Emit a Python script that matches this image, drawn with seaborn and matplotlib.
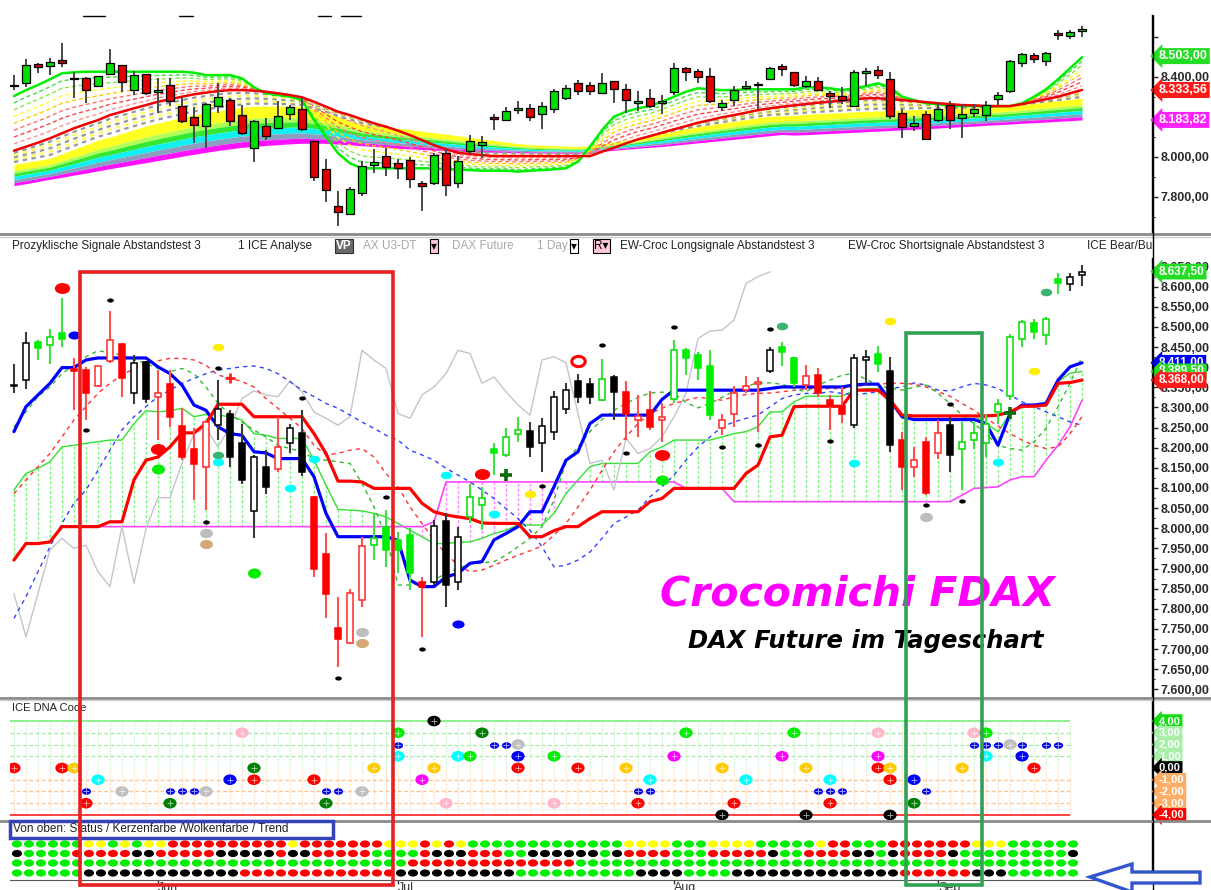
import numpy as np
import pandas as pd
import seaborn as sns
import matplotlib.pyplot as plt
from matplotlib.lines import Line2D
from matplotlib.patches import Rectangle, Polygon
from matplotlib.markers import MarkerStyle
from matplotlib.transforms import Affine2D
from matplotlib.ticker import FixedLocator, FuncFormatter

# ---------------- data (FDAX daily, mid May - mid Sep 2013) ----------------
OPEN = [8357, 8368, 8463, 8455, 8484, 8395, 8393, 8353, 8416, 8457,
        8336, 8413, 8325, 8358, 8254, 8198, 8153, 8256, 8285, 8211,
        8043, 8151, 8146, 8212, 8237, 8078, 7937, 7753, 7715, 7821,
        7958, 8004, 7970, 7983, 7867, 7867, 8018, 7867, 8028, 8057,
        8198, 8182, 8235, 8242, 8212, 8240, 8295, 8366, 8358, 8318,
        8376, 8339, 8269, 8293, 8270, 8322, 8444, 8430, 8403, 8248,
        8285, 8343, 8358, 8391, 8451, 8422, 8356, 8380, 8318, 8303,
        8256, 8419, 8432, 8391, 8220, 8153, 8215, 8186, 8256, 8196,
        8219, 8211, 8289, 8328, 8471, 8509, 8480, 8618, 8606, 8629]
HIGH = [8409, 8488, 8467, 8496, 8571, 8422, 8401, 8404, 8540, 8460,
        8430, 8415, 8393, 8393, 8298, 8250, 8268, 8368, 8293, 8260,
        8182, 8194, 8277, 8260, 8293, 8080, 7989, 7830, 7850, 7979,
        8037, 8045, 7990, 8000, 7879, 8020, 8037, 8004, 8111, 8103,
        8212, 8248, 8277, 8263, 8275, 8341, 8360, 8384, 8372, 8420,
        8380, 8366, 8331, 8341, 8310, 8467, 8447, 8438, 8444, 8285,
        8353, 8378, 8376, 8449, 8463, 8426, 8405, 8399, 8331, 8351,
        8434, 8444, 8452, 8426, 8240, 8202, 8227, 8269, 8277, 8264,
        8264, 8281, 8322, 8482, 8517, 8521, 8525, 8635, 8635, 8654]
LOW = [8335, 8347, 8418, 8408, 8451, 8293, 8270, 8350, 8410, 8326,
       8308, 8310, 8219, 8252, 8170, 8070, 8045, 8219, 8153, 8110,
       7975, 8086, 8140, 8186, 8130, 7880, 7776, 7656, 7712, 7805,
       7921, 7904, 7890, 7846, 7730, 7860, 7805, 7846, 8012, 7995,
       8132, 8177, 8215, 8177, 8140, 8219, 8285, 8310, 8308, 8316,
       8269, 8219, 8227, 8244, 8215, 8310, 8380, 8368, 8269, 8231,
       8252, 8335, 8240, 8385, 8403, 8350, 8343, 8327, 8244, 8262,
       8248, 8356, 8389, 8190, 8095, 8128, 8082, 8173, 8140, 8095,
       8198, 8177, 8260, 8318, 8449, 8469, 8455, 8582, 8590, 8601]
CLOSE = [8353, 8459, 8447, 8474, 8471, 8390, 8336, 8403, 8467, 8372,
         8411, 8320, 8335, 8277, 8177, 8159, 8264, 8297, 8177, 8120,
         8177, 8103, 8202, 8248, 8140, 7900, 7836, 7726, 7840, 7956,
         7975, 7947, 7945, 7888, 7855, 8006, 7859, 7979, 8078, 8074,
         8187, 8227, 8244, 8201, 8254, 8327, 8343, 8327, 8327, 8370,
         8339, 8285, 8278, 8252, 8277, 8442, 8422, 8397, 8281, 8270,
         8335, 8353, 8364, 8444, 8438, 8360, 8378, 8335, 8303, 8285,
         8424, 8426, 8408, 8206, 8151, 8169, 8088, 8237, 8183, 8215,
         8237, 8260, 8308, 8476, 8513, 8488, 8521, 8610, 8623, 8637.5]
# candle colour code in the lower price chart: K black, W white, G green, g green hollow, R red, r red hollow
CANDLE_CODE = list("KWGgGRRrrR" "WKrRRRrWKK" "WKrWKRRRrr" "gGGGRWKWgg" "GggKWWWKKg"
                   "KRrRrgGGGr" "rrrWGGrRRR" "WWGKRrRrKg" "gggggGgGWW")

# upper chart: moving average ribbon
TOP_FAST = [8303, 8333, 8358, 8387, 8417, 8422, 8425, 8425, 8425, 8425,
            8425, 8425, 8425, 8425, 8425, 8420, 8408, 8408, 8408, 8392,
            8347, 8317, 8308, 8300, 8283, 8183, 8100, 8017, 7967, 7942,
            7942, 7942, 7942, 7942, 7942, 7942, 7937, 7937, 7933, 7930,
            7930, 7930, 7925, 7930, 7933, 7937, 7942, 7975, 8050, 8133,
            8200, 8225, 8242, 8253, 8275, 8300, 8325, 8342, 8337, 8333,
            8333, 8337, 8337, 8337, 8337, 8337, 8347, 8347, 8342, 8333,
            8342, 8353, 8367, 8347, 8300, 8283, 8267, 8263, 8253, 8253,
            8253, 8253, 8253, 8253, 8267, 8300, 8337, 8387, 8442, 8497]
TOP_RED = [8030, 8050, 8070, 8092, 8117, 8142, 8163, 8183, 8208, 8225,
           8242, 8258, 8275, 8287, 8300, 8312, 8320, 8328, 8333, 8333,
           8330, 8325, 8317, 8308, 8297, 8275, 8250, 8225, 8208, 8187,
           8167, 8150, 8130, 8108, 8083, 8058, 8037, 8020, 8013, 8008,
           8003, 8003, 8003, 8003, 8003, 8003, 8003, 8003, 8003, 8025,
           8045, 8067, 8087, 8103, 8120, 8137, 8153, 8170, 8183, 8197,
           8208, 8220, 8233, 8242, 8250, 8257, 8263, 8270, 8275, 8280,
           8287, 8292, 8292, 8288, 8283, 8278, 8273, 8267, 8263, 8258,
           8257, 8253, 8253, 8253, 8263, 8275, 8287, 8300, 8317, 8333.56]
RIB_TOP = [7962, 7972, 7982, 7992, 8015, 8037, 8060, 8083, 8098, 8117,
           8135, 8153, 8168, 8182, 8196, 8210, 8220, 8229, 8238, 8247,
           8253, 8253, 8253, 8253, 8252, 8236, 8220, 8200, 8182, 8164,
           8155, 8148, 8142, 8136, 8128, 8120, 8113, 8105, 8096, 8088,
           8081, 8073, 8066, 8060, 8057, 8055, 8053, 8051, 8055, 8064,
           8073, 8082, 8093, 8105, 8117, 8129, 8140, 8150, 8159, 8168,
           8177, 8186, 8195, 8202, 8205, 8207, 8212, 8215, 8218, 8221,
           8224, 8227, 8229, 8231, 8233, 8235, 8237, 8239, 8241, 8243,
           8245, 8247, 8250, 8255, 8261, 8267, 8274, 8280, 8286, 8292]
RIB_BOT = [7855, 7865, 7876, 7887, 7897, 7908, 7918, 7929, 7940, 7950,
           7960, 7970, 7981, 7991, 8002, 8012, 8022, 8031, 8039, 8047,
           8051, 8056, 8060, 8064, 8067, 8067, 8067, 8063, 8059, 8055,
           8051, 8046, 8042, 8039, 8036, 8033, 8030, 8027, 8024, 8023,
           8022, 8021, 8020, 8019, 8018, 8018, 8017, 8017, 8022, 8027,
           8032, 8037, 8042, 8047, 8051, 8057, 8063, 8069, 8075, 8081,
           8087, 8093, 8099, 8105, 8111, 8108, 8110, 8113, 8116, 8119,
           8122, 8125, 8128, 8131, 8134, 8137, 8140, 8143, 8147, 8150,
           8153, 8157, 8160, 8163, 8167, 8170, 8173, 8177, 8180, 8183.82]

# lower chart: ichimoku style lines
BLUE_THICK = [8240, 8302, 8331, 8360, 8399, 8399, 8418, 8423, 8423, 8423,
              8423, 8423, 8401, 8384, 8356, 8306, 8293, 8252, 8235, 8231,
              8190, 8187, 8173, 8173, 8173, 8128, 8037, 7979, 7979, 7979,
              7979, 7979, 7970, 7871, 7855, 7855, 7879, 7888, 7913, 7917,
              7971, 7987, 8004, 8041, 8041, 8103, 8169, 8190, 8260, 8281,
              8281, 8281, 8281, 8281, 8320, 8343, 8343, 8343, 8343, 8343,
              8343, 8343, 8343, 8347, 8351, 8351, 8351, 8351, 8351, 8351,
              8356, 8358, 8358, 8318, 8277, 8270, 8270, 8270, 8270, 8270,
              8270, 8260, 8206, 8285, 8306, 8306, 8310, 8368, 8401, 8411]
RED_THICK = [7921, 7962, 7962, 7966, 8004, 8004, 8004, 8004, 8016, 8016,
             8120, 8169, 8177, 8202, 8237, 8237, 8260, 8308, 8308, 8308,
             8277, 8277, 8277, 8277, 8277, 8235, 8186, 8117, 8117, 8115,
             8099, 8099, 8099, 8099, 8062, 8041, 8033, 8028, 8024, 8013,
             8012, 8012, 8012, 7979, 7979, 7994, 8004, 8004, 8024, 8041,
             8041, 8041, 8041, 8066, 8074, 8099, 8099, 8099, 8099, 8099,
             8099, 8136, 8157, 8227, 8231, 8302, 8303, 8303, 8303, 8303,
             8343, 8343, 8343, 8318, 8281, 8279, 8279, 8279, 8279, 8279,
             8279, 8279, 8281, 8289, 8303, 8303, 8306, 8360, 8362, 8368]
SPAN_A = [8095, 8136, 8149, 8165, 8202, 8206, 8211, 8215, 8219, 8219,
          8260, 8292, 8289, 8292, 8298, 8277, 8283, 8281, 8277, 8269,
          8235, 8231, 8223, 8223, 8223, 8169, 8107, 8047, 8045, 8043,
          8037, 8028, 8012, 7995, 7979, 7962, 7962, 7965, 7966, 7975,
          7987, 7995, 8008, 8008, 8008, 8037, 8086, 8120, 8153, 8161,
          8161, 8161, 8161, 8190, 8202, 8219, 8219, 8219, 8219, 8227,
          8235, 8240, 8252, 8289, 8289, 8314, 8328, 8328, 8328, 8328,
          8343, 8347, 8347, 8310, 8281, 8279, 8279, 8279, 8279, 8279,
          8279, 8260, 8240, 8285, 8306, 8306, 8306, 8364, 8385, 8389.5]
SPAN_B = [7921, 7962, 7962, 7966, 8004, 8004, 8004, 8004, 8004, 8004,
          8004, 8004, 8004, 8004, 8004, 8004, 8004, 8004, 8004, 8004,
          8004, 8004, 8004, 8004, 8004, 8004, 8004, 8004, 8004, 8004,
          8004, 8004, 8004, 8004, 8004, 8016, 8115, 8115, 8115, 8115,
          8115, 8115, 8115, 8115, 8115, 8115, 8115, 8115, 8115, 8115,
          8115, 8115, 8115, 8115, 8115, 8115, 8099, 8099, 8099, 8099,
          8066, 8066, 8066, 8066, 8066, 8066, 8066, 8066, 8066, 8066,
          8066, 8066, 8066, 8066, 8066, 8066, 8066, 8066, 8066, 8082,
          8099, 8101, 8103, 8120, 8128, 8128, 8169, 8206, 8252, 8318]
BLUE_DASH = [7776, 7830, 7892, 7954, 8012, 8062, 8095, 8144, 8194, 8244,
             8277, 8302, 8327, 8343, 8360, 8372, 8384, 8393, 8397, 8401,
             8403, 8397, 8384, 8364, 8343, 8327, 8310, 8298, 8281, 8264,
             8248, 8231, 8219, 8194, 8182, 8169, 8149, 8132, 8115, 8095,
             8074, 8049, 8024, 7995, 7954, 7904, 7908, 7921, 7941, 7975,
             8012, 8028, 8045, 8078, 8103, 8132, 8169, 8202, 8227, 8252,
             8264, 8273, 8281, 8302, 8322, 8331, 8335, 8335, 8339, 8335,
             8331, 8335, 8339, 8347, 8351, 8361, 8356, 8343, 8341, 8351,
             8360, 8356, 8347, 8331, 8314, 8302, 8289, 8277, 8264, 8256]
RED_DASH = [8086, 8120, 8153, 8186, 8227, 8269, 8302, 8335, 8360, 8380,
            8397, 8409, 8416, 8422, 8422, 8418, 8405, 8380, 8374, 8364,
            8351, 8322, 8298, 8273, 8248, 8206, 8182, 8186, 8194, 8198,
            8177, 8136, 8103, 8053, 8012, 7970, 7937, 7908, 7892, 7896,
            7908, 7921, 7933, 7944, 7956, 7983, 8012, 8053, 8095, 8144,
            8190, 8227, 8260, 8285, 8298, 8310, 8318, 8325, 8322, 8318,
            8327, 8332, 8335, 8336, 8339, 8343, 8347, 8347, 8347, 8347,
            8351, 8356, 8358, 8360, 8360, 8358, 8351, 8339, 8328, 8310,
            8293, 8273, 8254, 8235, 8219, 8206, 8198, 8202, 8235, 8277]
GREEN_DASH = [8252, 8289, 8327, 8351, 8384, 8405, 8426, 8441, 8436, 8430,
              8419, 8409, 8397, 8389, 8397, 8384, 8351, 8310, 8283, 8264,
              8244, 8227, 8206, 8198, 8190, 8173, 8169, 8165, 8161, 8111,
              8053, 7979, 7859, 7859, 7863, 7871, 7888, 7900, 7911, 7914,
              7917, 7933, 7954, 7975, 8004, 8070, 8165, 8202, 8240, 8270,
              8293, 8310, 8325, 8336, 8338, 8335, 8312, 8299, 8310, 8325,
              8341, 8353, 8361, 8361, 8358, 8347, 8339, 8356, 8368, 8380,
              8385, 8370, 8356, 8347, 8343, 8350, 8356, 8335, 8310, 8281,
              8260, 8235, 8206, 8198, 8194, 8215, 8248, 8302, 8360, 8426]
GREY_LAG = [7838, 7730, 7838, 7946, 7975, 7950, 7958, 7892, 7855, 8004,
            7863, 7999, 8076, 8076, 8161, 8235, 8248, 8202, 8252, 8322,
            8341, 8331, 8327, 8366, 8339, 8289, 8273, 8256, 8277, 8442,
            8418, 8397, 8285, 8273, 8331, 8351, 8384, 8442, 8434, 8360,
            8376, 8339, 8306, 8281, 8418, 8426, 8411, 8285, 8161, 8169,
            8095, 8223, 8186, 8198, 8227, 8277, 8335, 8471, 8490, 8492,
            8517, 8608, 8625, 8637]

# signal markers in the lower price chart
SIG_BAR = [4, 5, 8, 6, 12, 12, 17, 17, 18, 17, 17, 16, 16, 16, 20, 23, 24, 25, 27, 29,
           29, 31, 36, 34, 37, 39, 41, 40, 43, 44, 47, 49, 51, 54, 54, 55, 59, 62, 63, 64,
           68, 73, 70, 76, 76, 78, 79, 82, 83, 85, 86]
SIG_VAL = [8596, 8481, 8567, 8245, 8198, 8147, 8451, 8397, 8372, 8183, 8165, 8016, 7987, 7962,
           7889, 8099, 8324, 8171, 7627, 7743, 7714, 8078, 8132, 7699, 7762, 8134, 8132, 8035,
           8084, 8105, 8416, 8456, 8186, 8182, 8120, 8500, 8201, 8206, 8495, 8502, 8217, 8515,
           8163, 8057, 8028, 8308, 8067, 8165, 8287, 8390, 8587]
SIG_KIND = ['bigred', 'blue', 'dot', 'dot', 'bigred', 'green', 'yellow', 'dot', 'redcross', 'teal',
            'cyan', 'dot', 'grey', 'tan', 'green', 'cyan', 'dot', 'cyan', 'dot', 'grey',
            'tan', 'dot', 'cyan', 'dot', 'blue', 'bigred', 'dgcross', 'cyan', 'yellow', 'dot',
            'ring', 'dot', 'dot', 'bigred', 'green', 'dot', 'dot', 'dot', 'dot', 'teal',
            'dot', 'yellow', 'cyan', 'dot', 'grey', 'dot', 'dot', 'cyan', 'dgcross', 'yellow', 'teal']

# ICE DNA code panel
DNA_BAR = [0, 4, 5, 6, 6, 7, 9, 13, 14, 15, 16, 13, 19, 18, 20, 20, 25, 26, 27, 26,
           29, 30, 32, 32, 32, 35, 34, 35, 36, 37, 38, 39, 40, 41, 42, 42, 42, 45, 45, 47,
           51, 52, 53, 52, 53, 55, 56, 59, 59, 60, 61, 64, 65, 66, 66, 67, 68, 69, 68, 68,
           72, 72, 72, 73, 73, 73, 75, 76, 75, 79, 80, 81, 80, 81, 82, 83, 84, 86, 87, 81,
           84, 85]
DNA_LEVEL = [0, 0, 0, -2, -3, -1, -2, -2, -2, -2, -2, -3, 3, -1, -1, 0, -1, -2, -2, -3,
             -2, 0, 3, 2, 1, 4, -1, 0, -3, 1, 1, 3, 2, 2, 2, 1, 0, -3, 1, 0,
             0, -2, -2, -3, -1, 1, 3, -4, 0, -3, -1, 1, 3, 0, -4, -2, -2, -2, -1, -3,
             3, 1, 0, 0, -1, -4, -1, -2, -3, 0, 3, 3, 2, 2, 2, 2, 2, 2, 2, 1,
             1, 0]
DNA_COL = ['red', 'red', 'gold', 'sblue', 'red', 'cyan', 'silver', 'sblue', 'sblue', 'sblue',
           'silver', 'dkgreen', 'pink', 'blue', 'red', 'dkgreen', 'red', 'sblue', 'sblue', 'dkgreen',
           'silver', 'gold', 'green', 'sblue', 'cyan', 'black', 'magenta', 'gold', 'pink', 'cyan',
           'green', 'dkgreen', 'sblue', 'sblue', 'silver', 'blue', 'red', 'pink', 'green', 'red',
           'gold', 'sblue', 'sblue', 'red', 'cyan', 'magenta', 'green', 'black', 'gold', 'red',
           'cyan', 'magenta', 'green', 'gold', 'black', 'sblue', 'sblue', 'sblue', 'cyan', 'red',
           'pink', 'magenta', 'red', 'gold', 'red', 'black', 'blue', 'sblue', 'dkgreen', 'gold',
           'pink', 'green', 'sblue', 'sblue', 'sblue', 'silver', 'sblue', 'sblue', 'sblue', 'cyan',
           'blue', 'red']

# dot rows at the bottom (run lengths): Status / Kerzenfarbe / Wolkenfarbe / Trend
ROW_STATUS = [('G', 7), ('Y', 2), ('G', 1), ('Y', 1), ('G', 1), ('Y', 2), ('R', 10), ('Y', 1),
              ('R', 7), ('Y', 3), ('R', 1), ('Y', 1), ('R', 1), ('Y', 1), ('G', 13), ('Y', 4),
              ('G', 3), ('Y', 4), ('G', 5), ('Y', 1), ('R', 2), ('G', 3), ('R', 7), ('Y', 3), ('G', 6)]
ROW_CANDLE = [('K', 2), ('G', 4), ('R', 5), ('K', 2), ('R', 5), ('K', 5), ('R', 1), ('K', 2),
              ('R', 5), ('G', 4), ('R', 1), ('K', 3), ('R', 3), ('G', 2), ('K', 6), ('G', 1),
              ('K', 1), ('R', 4), ('G', 3), ('R', 5), ('K', 1), ('G', 2), ('R', 4), ('K', 2),
              ('G', 1), ('K', 1), ('R', 4), ('K', 1), ('G', 9), ('K', 1)]
ROW_CLOUD = [('G', 34), ('R', 14), ('G', 42)]
ROW_TREND = [('G', 7), ('K', 13), ('R', 13), ('K', 10), ('G', 10), ('K', 4), ('G', 4),
             ('K', 14), ('R', 6), ('K', 3), ('G', 6)]

MONTH_BAR = [12, 32, 55, 77]
MONTH_LBL = ['Jun', 'Jul', 'Aug', 'Sep']

# ---------------- layout helpers ----------------
sns.set_style('white')
plt.rcParams['font.family'] = ['Liberation Sans', 'DejaVu Sans']

W, H = 1211, 890
fig = plt.figure(figsize=(W / 100, H / 100), dpi=100)
fig.patch.set_facecolor('white')
X = np.arange(len(CLOSE))
XLIM = (-0.33, 94.83)


def px_axes(x0, y0, x1, y1):
    ax = fig.add_axes([x0 / W, 1 - y1 / H, (x1 - x0) / W, (y1 - y0) / H])
    ax.set_facecolor('white')
    for s in ['top', 'left', 'bottom']:
        ax.spines[s].set_visible(False)
    ax.spines['right'].set_color('black')
    ax.spines['right'].set_linewidth(1)
    ax.set_xticks([])
    return ax


def de(v):
    s = f"{v:,.2f}"
    return s.replace(',', '#').replace('.', ',').replace('#', '.')


def price_axis(ax, major, minor, hide=()):
    ax.yaxis.tick_right()
    ax.yaxis.set_major_locator(FixedLocator(major))
    ax.yaxis.set_minor_locator(FixedLocator(minor))
    ax.yaxis.set_major_formatter(FuncFormatter(lambda v, p: '' if v in hide else de(v)))
    ax.tick_params(axis='y', which='major', right=True, left=False, labelright=True,
                   labelleft=False, length=4, width=1, pad=2, labelsize=9, labelcolor='#2a2a2a')
    ax.tick_params(axis='y', which='minor', right=True, left=False, length=2.5, width=0.8)
    for t in ax.get_yticklabels():
        t.set_fontweight('bold')


def tag(ax, val, txt, fc, fs=8.5):
    ax.text(1.006, val, txt, transform=ax.get_yaxis_transform(), ha='left', va='center',
            fontsize=fs, fontweight='bold', color='white', clip_on=False, zorder=30,
            bbox=dict(boxstyle='larrow,pad=0.16', fc=fc, ec='none'))


def line(ax, y, color, lw, ls='-', z=3):
    sns.lineplot(x=np.arange(len(y)), y=y, ax=ax, color=color, linewidth=lw, linestyle=ls,
                 estimator=None, sort=False, legend=False, zorder=z)


def ell(xs):
    return MarkerStyle('o', transform=Affine2D().scale(xs, 1.0))


def expand(runs):
    return ''.join(ch * k for ch, k in runs)


O = np.array(OPEN, float)
C = np.array(CLOSE, float)

# ---------------- upper chart ----------------
ax_top = px_axes(10, 15, 1152, 232)
rt, rb = np.array(RIB_TOP), np.array(RIB_BOT)
bands = [(0.00, 0.30, '#ffff22'), (0.30, 0.42, '#b0ff55'), (0.42, 0.56, '#33e833'),
         (0.56, 0.72, '#11f0f0'), (0.72, 0.86, '#8a9ec0'), (0.86, 1.00, '#ff11ff')]
for f0, f1, col in bands:
    ax_top.fill_between(X, rt + f0 * (rb - rt), rt + f1 * (rb - rt), color=col, lw=0, zorder=1)

fast, red = np.array(TOP_FAST), np.array(TOP_RED)
fast_cols = ['#44dd44', '#88e844', '#ffff22', '#ffcc00', '#ff7070', '#ff4444', '#ff9090']
for k, col in enumerate(fast_cols):
    f = (k + 1) / (len(fast_cols) + 1)
    ax_top.plot(X, fast + f * (red - fast), color=col, lw=1, ls=(0, (3, 2)), zorder=2)
lower = np.where(red >= rt, rt, np.where(red <= rb, rb, np.nan))
grey_cols = ['#999999', '#ffff55', '#999999', '#ffff55', '#999999']
for k, col in enumerate(grey_cols):
    f = (k + 1) / (len(grey_cols) + 1)
    ax_top.plot(X, red + f * (lower - red), color=col, lw=1.6, ls=(0, (2, 2)), zorder=2)

line(ax_top, TOP_FAST, '#00ee00', 1.8, z=3)
line(ax_top, TOP_RED, '#ee0000', 1.8, z=3)

up = C >= O
ax_top.vlines(X, LOW, HIGH, colors='#4a4a4a', linewidth=1.4, zorder=5)
ax_top.bar(X, np.maximum(np.abs(C - O), 6), bottom=np.minimum(O, C), width=0.6,
           color=np.where(up, '#00dd00', '#e00000'), edgecolor='black', linewidth=0.9, zorder=6)
ax_top.set_xlim(*XLIM)
ax_top.set_ylim(7623.5, 8708.5)
ax_top.set_xlabel('')
ax_top.set_ylabel('')
price_axis(ax_top, [7600, 7800, 8000, 8200, 8400, 8600], [7700, 7900, 8100, 8300, 8500], hide=(8600,))
tag(ax_top, 8503.0, de(8503.0), '#22dd22', fs=9)
tag(ax_top, 8333.56, de(8333.56), '#ff1a1a', fs=9)
tag(ax_top, 8183.82, de(8183.82), '#ff22ff', fs=9)

# ---------------- lower price chart ----------------
ax_mid = px_axes(10, 258, 1152, 697)
A, B = np.array(SPAN_A), np.array(SPAN_B)
ax_mid.vlines(X, np.minimum(A, B), np.maximum(A, B),
              colors=np.where(A >= B, '#7cf07c', '#ff80ff'), linewidth=1,
              linestyles=(0, (2, 1.5)), zorder=1)
line(ax_mid, SPAN_A, '#33e033', 1.0, z=2)
line(ax_mid, SPAN_B, '#ff44ff', 1.2, z=2)
line(ax_mid, GREY_LAG, '#c4c4cc', 1.0, z=2)
line(ax_mid, BLUE_DASH, '#3344ff', 1.0, ls=(0, (3, 3)), z=2)
line(ax_mid, RED_DASH, '#ff3333', 1.0, ls=(0, (3, 3)), z=2)
line(ax_mid, GREEN_DASH, '#33bb33', 1.0, ls=(0, (3, 3)), z=2)
line(ax_mid, BLUE_THICK, '#0000ff', 2.3, z=3)
line(ax_mid, RED_THICK, '#ff0000', 2.3, z=3)

FACE = {'K': '#000000', 'W': '#ffffff', 'G': '#00ee00', 'g': '#ffffff', 'R': '#ff0000', 'r': '#ffffff'}
EDGE = {'K': '#000000', 'W': '#000000', 'G': '#00ee00', 'g': '#00dd00', 'R': '#ff0000', 'r': '#ff2a2a'}
WICK = {'K': '#3a3a3a', 'W': '#3a3a3a', 'G': '#40e040', 'g': '#40e040', 'R': '#ff5050', 'r': '#ff5050'}
ax_mid.vlines(X, LOW, HIGH, colors=[WICK[c] for c in CANDLE_CODE], linewidth=1.5, zorder=5)
ax_mid.bar(X, np.maximum(np.abs(C - O), 3), bottom=np.minimum(O, C), width=0.5,
           color=[FACE[c] for c in CANDLE_CODE], edgecolor=[EDGE[c] for c in CANDLE_CODE],
           linewidth=1.1, zorder=6)

KIND_STYLE = {'bigred': ('#ff0000', 62, 1.4), 'blue': ('#0000ff', 34, 1.5), 'green': ('#00ee00', 52, 1.3),
              'yellow': ('#ffee00', 30, 1.5), 'teal': ('#3cb371', 30, 1.5), 'cyan': ('#00ffff', 30, 1.5),
              'grey': ('#bdbdbd', 44, 1.4), 'tan': ('#d4a97a', 44, 1.4), 'dot': ('#000000', 9, 1.6)}
sig = pd.DataFrame({'bar': SIG_BAR, 'val': SIG_VAL, 'kind': SIG_KIND})
for kind, (col, s, xs) in KIND_STYLE.items():
    d = sig[sig.kind == kind]
    sns.scatterplot(data=d, x='bar', y='val', color=col, s=s, marker=ell(xs), linewidth=0,
                    legend=False, ax=ax_mid, zorder=8)
d = sig[sig.kind == 'ring']
ax_mid.scatter(d.bar, d.val, s=55, marker=ell(1.3), facecolor='white', edgecolor='#ff0000',
               linewidths=2.2, zorder=8)
d = sig[sig.kind == 'redcross']
ax_mid.scatter(d.bar, d.val, s=60, marker='+', color='#ff2020', linewidths=2, zorder=8)
d = sig[sig.kind == 'dgcross']
ax_mid.scatter(d.bar, d.val, s=70, marker='+', color='#0a6a0a', linewidths=2.6, zorder=8)

ax_mid.set_xlim(*XLIM)
ax_mid.set_ylim(7580.8, 8671.3)
ax_mid.set_xlabel('')
ax_mid.set_ylabel('')
price_axis(ax_mid, np.arange(7600, 8651, 50), np.arange(7625, 8651, 50))
tag(ax_mid, 8637.5, de(8637.5), '#22dd22')
tag(ax_mid, 8411.0, de(8411.0), '#0000ff')
tag(ax_mid, 8389.5, de(8389.5), '#22dd22')
tag(ax_mid, 8368.0, de(8368.0), '#ff1a1a')

fig.text(660 / W, 1 - 606 / H, 'Crocomichi FDAX', family='DejaVu Sans', fontsize=29.5,
         fontweight='bold', style='italic', color='#ff00ff', ha='left', va='baseline', zorder=4)
fig.text(688 / W, 1 - 648 / H, 'DAX Future im Tageschart', family='DejaVu Sans', fontsize=17.5,
         fontweight='bold', style='italic', color='black', ha='left', va='baseline', zorder=4)

# ---------------- ICE DNA code ----------------
ax_dna = px_axes(10, 700, 1152, 820)
grid_x = np.arange(0, 89)
ax_dna.vlines(grid_x, 0, 4, colors='#b4eeb4', linewidth=0.8, linestyles=(0, (1, 1.5)), zorder=1)
ax_dna.vlines(grid_x, -4, 0, colors='#ffcfa6', linewidth=0.8, linestyles=(0, (1, 1.5)), zorder=1)
ax_dna.hlines(4, -0.33, 88, colors='#88ee88', linewidth=1.3, zorder=1)
ax_dna.hlines([1, 2, 3], -0.33, 88, colors='#a6e8a6', linewidth=0.9, linestyles=(0, (3, 2)), zorder=1)
ax_dna.hlines([-1, -2, -3], -0.33, 88, colors='#ffc28a', linewidth=0.9, linestyles=(0, (3, 2)), zorder=1)
ax_dna.hlines(-4, -0.33, 88, colors='#ff2020', linewidth=1.2, zorder=1)

DNA_PAL = {'red': '#ff0000', 'gold': '#ffcc00', 'blue': '#0000ff', 'cyan': '#00ffff',
           'silver': '#c0c0c0', 'dkgreen': '#008000', 'pink': '#ffb6c8', 'green': '#00ee00',
           'black': '#000000', 'magenta': '#ff00ff'}
dna = pd.DataFrame({'bar': DNA_BAR, 'level': DNA_LEVEL, 'col': DNA_COL})
big = dna[dna.col != 'sblue']
small = dna[dna.col == 'sblue']
sns.scatterplot(data=big, x='bar', y='level', hue='col', palette=DNA_PAL, s=58, marker=ell(1.25),
                linewidth=0, legend=False, ax=ax_dna, zorder=5)
sns.scatterplot(data=small, x='bar', y='level', color='#0000ee', s=22, marker=ell(1.4),
                linewidth=0, legend=False, ax=ax_dna, zorder=5)
ax_dna.scatter(dna.bar, dna.level, marker='+', s=16, color='white', alpha=0.6, linewidths=0.7, zorder=6)
ax_dna.set_xlim(*XLIM)
ax_dna.set_ylim(-4.43, 5.79)
ax_dna.set_yticks([])
ax_dna.set_xlabel('')
ax_dna.set_ylabel('')
ax_dna.text(2 / 1142, 0.93, 'ICE DNA Code', transform=ax_dna.transAxes, fontsize=8,
            color='#222222', va='center')
for lv, fc in [(4, '#11dd11'), (3, '#a8eea8'), (2, '#a8eea8'), (1, '#a8eea8'), (0, '#000000'),
               (-1, '#ffad66'), (-2, '#ffad66'), (-3, '#ffad66'), (-4, '#ff0000')]:
    tag(ax_dna, lv, de(lv), fc, fs=8)

# ---------------- dot rows ----------------
ax_bot = px_axes(10, 822, 1152, 880)
ax_bot.spines['bottom'].set_visible(True)
ax_bot.spines['bottom'].set_color('#555555')
ROW_Y = [844, 853.5, 863, 873]
DOT_PAL = {'G': '#00ee00', 'Y': '#ffff00', 'R': '#ff0000', 'K': '#000000'}
recs = []
for ry, runs in zip(ROW_Y, [ROW_STATUS, ROW_CANDLE, ROW_CLOUD, ROW_TREND]):
    for j, ch in enumerate(expand(runs)):
        recs.append({'x': j - 0.75, 'y': ry, 'c': ch})
dots = pd.DataFrame(recs)
sns.scatterplot(data=dots, x='x', y='y', hue='c', palette=DOT_PAL, s=27, marker=ell(1.4),
                linewidth=0, legend=False, ax=ax_bot, zorder=5)
ax_bot.set_xlim(*XLIM)
ax_bot.set_ylim(880, 822)
ax_bot.set_yticks([])
ax_bot.set_xlabel('')
ax_bot.set_ylabel('')
ax_bot.set_xticks(MONTH_BAR)
ax_bot.set_xticklabels(MONTH_LBL, ha='left', fontsize=9)
ax_bot.tick_params(axis='x', bottom=True, length=3, width=1, direction='out', pad=-1.5, colors='#333333')

# ---------------- frame, header and overlays ----------------
def fig_line(xs, ys, **kw):
    fig.add_artist(Line2D([v / W for v in xs], [1 - v / H for v in ys], transform=fig.transFigure, **kw))


for y, col, lw in [(233.5, '#8a8a8a', 2), (236.5, '#cfcfcf', 1), (697.5, '#8a8a8a', 2),
                   (700, '#cfcfcf', 1), (820.5, '#8a8a8a', 2)]:
    fig_line([0, W], [y, y], color=col, lw=lw)
fig_line([1152.5, 1152.5], [15, 890], color='black', lw=1)
for x0, x1 in [(83, 105), (179, 193), (318, 331), (341, 361)]:
    fig_line([x0, x1], [16, 16], color='black', lw=1)

hy = 1 - 246 / H
hdr = dict(fontsize=8.5, va='center', ha='left')
fig.text(12 / W, hy, 'Prozyklische Signale Abstandstest 3', color='#222222', **hdr)
fig.text(238 / W, hy, '1 ICE Analyse', color='#222222', **hdr)
fig.text(336 / W, hy, 'VP', color='white', fontweight='bold',
         bbox=dict(boxstyle='square,pad=0.12', fc='#6a6a6a', ec='#333333', lw=0.8), **hdr)
fig.text(363 / W, hy, 'AX U3-DT', color='#a8a8a8', **hdr)
fig.text(431 / W, hy, '\u25be', color='black',
         bbox=dict(boxstyle='square,pad=0.12', fc='#ffc8d8', ec='black', lw=0.8), **hdr)
fig.text(452 / W, hy, 'DAX Future', color='#a8a8a8', **hdr)
fig.text(537 / W, hy, '1 Day', color='#a8a8a8', **hdr)
fig.text(571 / W, hy, '\u25be', color='black',
         bbox=dict(boxstyle='square,pad=0.12', fc='white', ec='black', lw=0.8), **hdr)
fig.text(594 / W, hy, 'R\u25be', color='black',
         bbox=dict(boxstyle='square,pad=0.12', fc='#ffc8d8', ec='black', lw=0.8), **hdr)
fig.text(620 / W, hy, 'EW-Croc Longsignale Abstandstest 3', color='#222222', **hdr)
fig.text(848 / W, hy, 'EW-Croc Shortsignale Abstandstest 3', color='#222222', **hdr)
fig.text(1087 / W, hy, 'ICE Bear/Bu', color='#222222', **hdr)

fig.add_artist(Rectangle((10 / W, 1 - 838 / H), 323 / W, 17 / H, transform=fig.transFigure,
                         fc='white', ec='#3344bb', lw=2.5, zorder=3))
fig.text(13 / W, 1 - 829.5 / H, 'Von oben: Status / Kerzenfarbe /Wolkenfarbe / Trend',
         fontsize=8.5, color='#222222', va='center', ha='left', zorder=4)

fig.add_artist(Rectangle((80 / W, 1 - 885 / H), 313 / W, 613 / H, transform=fig.transFigure,
                         fill=False, ec='#e82020', lw=2.6, zorder=6))
fig.add_artist(Rectangle((906 / W, 1 - 885 / H), 76 / W, 552 / H, transform=fig.transFigure,
                         fill=False, ec='#33a055', lw=2.6, zorder=6))
arrow = [(1090, 877), (1132, 864), (1132, 872), (1200, 872), (1200, 883), (1132, 883), (1132, 892)]
fig.add_artist(Polygon([(px / W, 1 - py / H) for px, py in arrow], closed=True, transform=fig.transFigure,
                       fc='white', ec='#3355cc', lw=2.4, zorder=6))

fig.savefig('out.png', dpi=100)
